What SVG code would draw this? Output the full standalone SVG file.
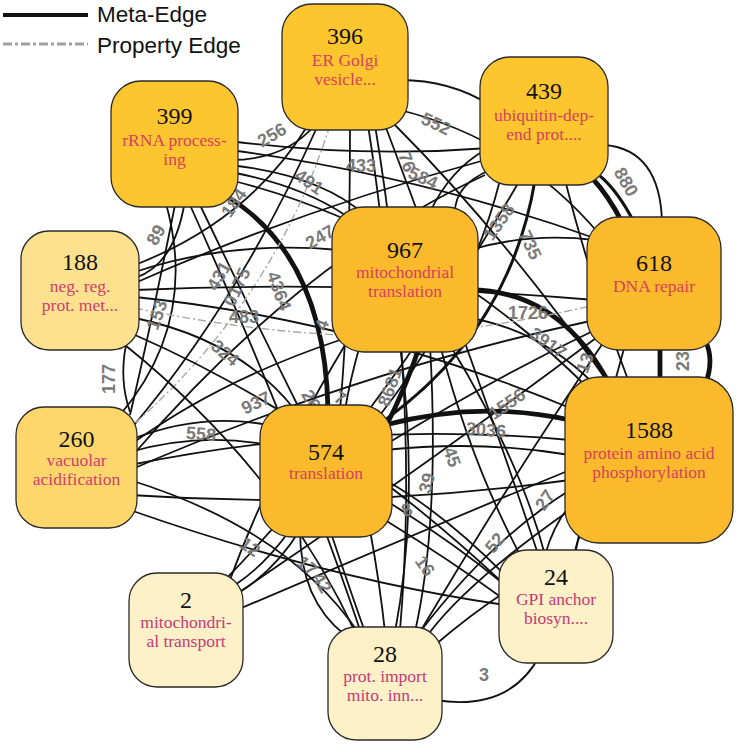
<svg xmlns="http://www.w3.org/2000/svg" width="738" height="745" viewBox="0 0 738 745">
<style>
.e{fill:none;stroke:#111;stroke-width:1.8}
.m{fill:none;stroke:#111;stroke-width:3}
.t{fill:none;stroke:#111;stroke-width:4.8}
.p{fill:none;stroke:#a8a8a8;stroke-width:1.4;stroke-dasharray:8 3 2 3}
.lb{font-family:"Liberation Sans",Arial,sans-serif;font-weight:bold;font-size:18px;fill:#7a7a7a;text-anchor:middle;dominant-baseline:central}
.nb{stroke:#2a2a2a;stroke-width:1.3}
.o1{fill:#FDC62F}
.o2{fill:#FBBA2B}
.y1{fill:#FEE18F}
.y2{fill:#FDD66C}
.y3{fill:#FEF0C7}
.num{font-family:"Liberation Serif","Times New Roman",serif;font-size:24px;fill:#111;text-anchor:middle}
.tx{font-family:"Liberation Serif","Times New Roman",serif;font-size:17.5px;text-anchor:middle}
.r1{fill:#D8405E}
.r2{fill:#D03E6C}
.r3{fill:#C23C78}
.lg{font-family:"Liberation Sans",Arial,sans-serif;font-size:22.5px;fill:#111}
</style>

<g id="legend">
  <line x1="3" y1="15" x2="88" y2="15" stroke="#111" stroke-width="4"/>
  <text class="lg" x="97" y="22">Meta-Edge</text>
  <line x1="3" y1="44" x2="88" y2="44" stroke="#a0a0a0" stroke-width="3.2" stroke-dasharray="9 3 3 3"/>
  <text class="lg" x="97" y="53">Property Edge</text>
</g>

<g id="edges">
  <path class="e" d="M400,80 Q450,80 490,105"/>
  <path class="e" d="M230,160 Q285,160 315,125"/>
  <path class="e" d="M230,141 Q360,158 490,148"/>
  <path class="e" d="M230,150 Q420,175 600,240"/>
  <path class="e" d="M230,165 Q320,175 365,215"/>
  <path class="e" d="M230,172 Q300,185 345,215"/>
  <path class="e" d="M230,180 Q430,230 590,390"/>
  <path class="t" d="M225,195 Q325,255 328,410"/>
  <path class="e" d="M185,200 Q175,265 135,278"/>
  <path class="e" d="M165,200 Q200,320 120,415"/>
  <path class="e" d="M200,205 Q260,330 300,410"/>
  <path class="e" d="M190,205 Q300,450 360,630"/>
  <path class="e" d="M130,415 Q150,330 175,205"/>
  <path class="e" d="M350,125 Q350,300 340,410"/>
  <path class="e" d="M368,125 Q375,170 380,212"/>
  <path class="e" d="M395,125 Q500,230 610,385"/>
  <path class="e" d="M400,110 Q520,140 600,235"/>
  <path class="e" d="M308,125 Q250,220 135,265"/>
  <path class="e" d="M318,125 Q240,300 130,430"/>
  <path class="p" d="M330,125 Q275,300 133,425"/>
  <path class="e" d="M385,125 Q470,350 540,560"/>
  <path class="e" d="M375,125 Q420,400 400,630"/>
  <path class="e" d="M485,150 Q450,170 430,212"/>
  <path class="e" d="M490,170 Q455,185 455,212"/>
  <path class="e" d="M500,180 Q470,300 380,415"/>
  <path class="m" d="M535,180 Q510,330 385,420"/>
  <path class="t" d="M592,178 Q608,195 622,222"/>
  <path class="m" d="M600,176 Q617,190 634,222"/>
  <path class="e" d="M605,145 Q660,150 662,222"/>
  <path class="e" d="M565,180 Q590,280 630,385"/>
  <path class="e" d="M485,175 Q300,260 133,455"/>
  <path class="e" d="M485,160 Q300,210 135,283"/>
  <path class="e" d="M520,180 Q380,420 225,580"/>
  <path class="e" d="M135,272 Q230,240 340,250"/>
  <path class="e" d="M135,290 Q360,280 595,300"/>
  <path class="e" d="M135,297 Q360,320 575,410"/>
  <path class="p" d="M135,308 Q240,330 340,335"/>
  <path class="e" d="M135,318 Q240,340 295,410"/>
  <path class="e" d="M125,345 Q280,470 355,632"/>
  <path class="e" d="M126,345 Q119,380 130,412"/>
  <path class="e" d="M135,335 Q330,420 505,585"/>
  <path class="e" d="M470,250 Q530,232 595,240"/>
  <path class="t" d="M470,290 Q560,290 610,385"/>
  <path class="e" d="M470,318 Q540,330 595,385"/>
  <path class="p" d="M470,328 Q530,320 595,305"/>
  <path class="e" d="M340,340 Q220,380 130,445"/>
  <path class="e" d="M360,345 Q350,380 345,410"/>
  <path class="t" d="M420,345 Q405,390 385,428"/>
  <path class="e" d="M345,345 Q270,470 230,580"/>
  <path class="e" d="M400,345 Q420,500 395,632"/>
  <path class="e" d="M450,345 Q520,460 545,555"/>
  <path class="e" d="M430,345 Q440,520 415,632"/>
  <path class="t" d="M660,345 L660,382"/>
  <path class="t" d="M705,340 Q715,360 705,385"/>
  <path class="e" d="M595,330 Q490,380 385,445"/>
  <path class="e" d="M595,320 Q360,370 130,470"/>
  <path class="e" d="M605,340 Q510,480 420,632"/>
  <path class="e" d="M625,345 Q595,450 575,555"/>
  <path class="e" d="M600,335 Q420,470 235,595"/>
  <path class="e" d="M130,440 Q200,412 268,425"/>
  <path class="e" d="M130,452 Q200,432 268,445"/>
  <path class="e" d="M130,465 Q350,420 570,440"/>
  <path class="e" d="M130,510 Q330,580 505,605"/>
  <path class="e" d="M130,480 Q290,530 360,635"/>
  <path class="t" d="M385,425 Q480,400 570,420"/>
  <path class="e" d="M385,450 Q480,440 570,455"/>
  <path class="e" d="M300,530 Q300,600 345,635"/>
  <path class="e" d="M330,530 Q350,590 365,632"/>
  <path class="e" d="M370,530 Q380,585 385,632"/>
  <path class="e" d="M385,500 Q450,540 505,585"/>
  <path class="e" d="M290,530 Q265,565 235,585"/>
  <path class="e" d="M300,530 Q275,570 240,592"/>
  <path class="e" d="M385,520 Q450,560 505,600"/>
  <path class="e" d="M575,500 Q555,520 545,555"/>
  <path class="e" d="M590,520 Q575,540 575,555"/>
  <path class="e" d="M570,490 Q490,540 420,632"/>
  <path class="e" d="M570,470 Q400,540 237,610"/>
  <path class="e" d="M570,480 Q350,510 130,495"/>
  <path class="e" d="M570,510 Q470,580 430,632"/>
  <path class="e" d="M435,700 Q510,712 540,655"/>
  <path class="e" d="M435,645 Q470,615 505,592"/>
  <path class="e" d="M520,555 Q470,460 440,345"/>
  <path class="e" d="M505,575 Q440,510 385,480"/>

  <text class="lb" transform="translate(272,135) rotate(-30)">256</text>
  <text class="lb" transform="translate(234,203) rotate(-55)">184</text>
  <text class="lb" transform="translate(156,235) rotate(-60)">89</text>
  <text class="lb" transform="translate(361,166)">433</text>
  <text class="lb" transform="translate(309,182) rotate(35)">491</text>
  <text class="lb" transform="translate(436,124) rotate(25)">552</text>
  <text class="lb" transform="translate(407,162) rotate(70)">76</text>
  <text class="lb" transform="translate(423,178) rotate(25)">584</text>
  <text class="lb" transform="translate(626,182) rotate(60)">880</text>
  <text class="lb" transform="translate(499,222) rotate(-55)">1358</text>
  <text class="lb" transform="translate(530,245) rotate(65)">735</text>
  <text class="lb" transform="translate(320,237) rotate(-30)">247</text>
  <text class="lb" transform="translate(219,276) rotate(-60)">431</text>
  <text class="lb" transform="translate(237,287) rotate(-65)">0175</text>
  <text class="lb" transform="translate(279,291) rotate(70)">4364</text>
  <text class="lb" transform="translate(244,317)">483</text>
  <text class="lb" transform="translate(157,315) rotate(-70)">153</text>
  <text class="lb" transform="translate(225,353) rotate(40)">324</text>
  <text class="lb" transform="translate(109,379) rotate(-90)">177</text>
  <text class="lb" transform="translate(256,403) rotate(-25)">937</text>
  <text class="lb" transform="translate(201,434) rotate(5)">558</text>
  <text class="lb" transform="translate(322,325) rotate(-70)">4</text>
  <text class="lb" transform="translate(340,398) rotate(30)">7</text>
  <text class="lb" transform="translate(311,400) rotate(60)">26</text>
  <text class="lb" transform="translate(390,387) rotate(-70)">8681</text>
  <text class="lb" transform="translate(528,313)">1726</text>
  <text class="lb" transform="translate(548,343) rotate(35)">3917</text>
  <text class="lb" transform="translate(585,363) rotate(-70)">13</text>
  <text class="lb" transform="translate(683,361) rotate(-90)">23</text>
  <text class="lb" transform="translate(507,404) rotate(-35)">1556</text>
  <text class="lb" transform="translate(486,430) rotate(5)">3036</text>
  <text class="lb" transform="translate(452,457) rotate(70)">45</text>
  <text class="lb" transform="translate(427,483) rotate(-75)">39</text>
  <text class="lb" transform="translate(407,510) rotate(-20)">8</text>
  <text class="lb" transform="translate(495,543) rotate(-50)">52</text>
  <text class="lb" transform="translate(545,500) rotate(-55)">27</text>
  <text class="lb" transform="translate(425,566) rotate(55)">16</text>
  <text class="lb" transform="translate(250,547) rotate(35)">12</text>
  <text class="lb" transform="translate(307,566) rotate(40)">17</text>
  <text class="lb" transform="translate(322,583) rotate(60)">42</text>
  <text class="lb" transform="translate(484,675)">3</text>
</g>

<g id="n396">
  <rect class="nb o1" x="282" y="4" width="126" height="126" rx="30"/>
  <text class="num" x="345" y="44">396</text>
  <text class="tx r1" x="345" y="66">ER Golgi</text>
  <text class="tx r1" x="345" y="85">vesicle...</text>
</g>
<g id="n399">
  <rect class="nb o1" x="111" y="81" width="127" height="126" rx="30"/>
  <text class="num" x="174.5" y="124">399</text>
  <text class="tx r1" x="174.5" y="146">rRNA process-</text>
  <text class="tx r1" x="174.5" y="165">ing</text>
</g>
<g id="n439">
  <rect class="nb o1" x="480" y="57" width="128" height="128" rx="30"/>
  <text class="num" x="544" y="99">439</text>
  <text class="tx r1" x="544" y="121">ubiquitin-dep-</text>
  <text class="tx r1" x="544" y="140">end prot....</text>
</g>
<g id="n188">
  <rect class="nb y1" x="21" y="231" width="118" height="119" rx="28"/>
  <text class="num" x="80" y="270">188</text>
  <text class="tx r2" x="80" y="292">neg. reg.</text>
  <text class="tx r2" x="80" y="311">prot. met...</text>
</g>
<g id="n967">
  <rect class="nb o2" x="332" y="207" width="146" height="145" rx="32"/>
  <text class="num" x="405" y="258">967</text>
  <text class="tx r1" x="405" y="278">mitochondrial</text>
  <text class="tx r1" x="405" y="297">translation</text>
</g>
<g id="n618">
  <rect class="nb o2" x="587" y="217" width="134" height="133" rx="32"/>
  <text class="num" x="654" y="271">618</text>
  <text class="tx r1" x="654" y="292">DNA repair</text>
</g>
<g id="n260">
  <rect class="nb y2" x="16" y="407" width="121" height="121" rx="28"/>
  <text class="num" x="76.5" y="447">260</text>
  <text class="tx r2" x="76.5" y="466">vacuolar</text>
  <text class="tx r2" x="76.5" y="485">acidification</text>
</g>
<g id="n574">
  <rect class="nb o2" x="260" y="405" width="132" height="132" rx="32"/>
  <text class="num" x="326" y="460">574</text>
  <text class="tx r1" x="326" y="479">translation</text>
</g>
<g id="n1588">
  <rect class="nb o2" x="565" y="377" width="168" height="166" rx="34"/>
  <text class="num" x="649" y="438">1588</text>
  <text class="tx r1" x="649" y="459">protein amino acid</text>
  <text class="tx r1" x="649" y="478">phosphorylation</text>
</g>
<g id="n2">
  <rect class="nb y3" x="129" y="573" width="114" height="114" rx="28"/>
  <text class="num" x="186" y="608">2</text>
  <text class="tx r3" x="186" y="628">mitochondri-</text>
  <text class="tx r3" x="186" y="647">al transport</text>
</g>
<g id="n28">
  <rect class="nb y3" x="328" y="627" width="114" height="113" rx="28"/>
  <text class="num" x="385" y="662">28</text>
  <text class="tx r3" x="385" y="682">prot. import</text>
  <text class="tx r3" x="385" y="701">mito. inn...</text>
</g>
<g id="n24">
  <rect class="nb y3" x="499" y="550" width="114" height="113" rx="28"/>
  <text class="num" x="556" y="585">24</text>
  <text class="tx r3" x="556" y="605">GPI anchor</text>
  <text class="tx r3" x="556" y="624">biosyn....</text>
</g>
</svg>
